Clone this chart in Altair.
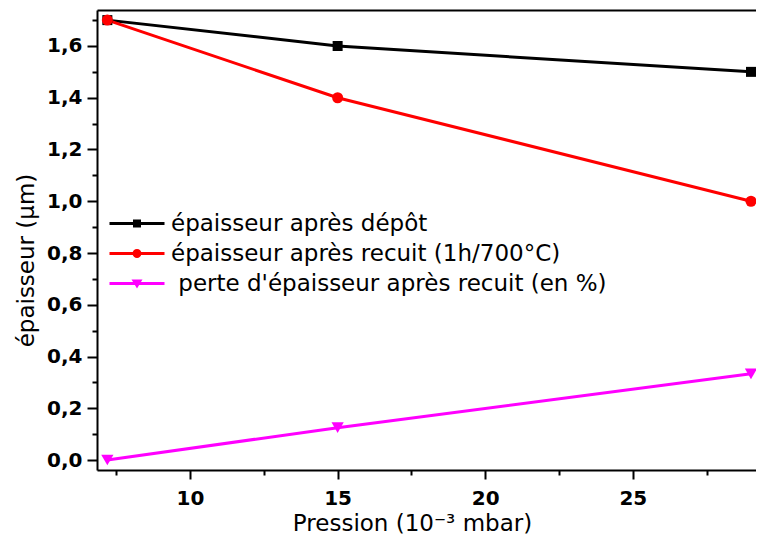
import altair as alt
import pandas as pd

# ---- data ----
pression = [7.2, 15, 29]
ep_depot = [1.7, 1.6, 1.5]
ep_recuit = [1.7, 1.4, 1.0]
perte = [0.0, 0.125, 0.333]

series = [
    "épaisseur après dépôt",
    "épaisseur après recuit (1h/700°C)",
    "perte d'épaisseur après recuit (en %)",
]
colors = ["#000000", "#ff0000", "#ff00ff"]
shapes = ["square", "circle", "triangle-down"]
sizes = [100, 121, 150]

x_major = [10, 15, 20, 25]
x_minor = [7.5, 12.5, 17.5, 22.5, 27.5]
y_major = [0.0, 0.2, 0.4, 0.6, 0.8, 1.0, 1.2, 1.4, 1.6]
y_minor = [0.1, 0.3, 0.5, 0.7, 0.9, 1.1, 1.3, 1.5, 1.7]

rows = []
for s, vals in zip(series, [ep_depot, ep_recuit, perte]):
    for p, v in zip(pression, vals):
        rows.append({"pression": p, "valeur": v, "serie": s})
df = pd.DataFrame(rows)

LABEL_FONT = "DejaVu Sans"
TEXT_FONT = "DejaVu Sans"

xscale = alt.Scale(domain=[6.85, 29.17], nice=False, zero=False)
yscale = alt.Scale(domain=[-0.0386, 1.7391], nice=False, zero=False)

x_main_axis = alt.Axis(
    values=x_major, orient="bottom", grid=False,
    domain=True, domainColor="black", domainWidth=2,
    tickSize=9, tickWidth=2, tickColor="black",
    labelFont=LABEL_FONT, labelFontSize=20, labelFontWeight="bold",
    labelColor="black", labelPadding=9, labelFlush=False,
    title="Pression (10⁻³ mbar)", titleFont=TEXT_FONT, titleFontSize=23,
    titleFontWeight="normal", titleColor="black",
    titleX=315, titleY=60, titleAlign="center", titleBaseline="alphabetic",
)
y_main_axis = alt.Axis(
    values=y_major, orient="left", grid=False,
    domain=True, domainColor="black", domainWidth=2,
    tickSize=10, tickWidth=2, tickColor="black",
    labelFont=LABEL_FONT, labelFontSize=20, labelFontWeight="bold",
    labelColor="black", labelPadding=5, labelFlush=False,
    labelExpr="replace(format(datum.value, '.1f'), '.', ',')",
    title="épaisseur (µm)", titleFont=TEXT_FONT, titleFontSize=23,
    titleFontWeight="normal", titleColor="black",
    titleAngle=270, titleX=-64, titleY=250, titleAlign="center",
    titleBaseline="alphabetic",
)
x_top_axis = alt.Axis(
    orient="top", grid=False, domain=True, domainColor="black",
    domainWidth=2, ticks=False, labels=False, title=None,
)
x_minor_axis = alt.Axis(
    values=x_minor, orient="bottom", grid=False, domain=False,
    tickSize=5, tickWidth=2, tickColor="black", labels=False, title=None,
)
y_minor_axis = alt.Axis(
    values=y_minor, orient="left", grid=False, domain=False,
    tickSize=5, tickWidth=2, tickColor="black", labels=False, title=None,
)

base = alt.Chart(df)

layers = []
# lines
x_axes = [x_main_axis, x_top_axis, None]
y_axes = [y_main_axis, None, None]
for i, (s, c) in enumerate(zip(series, colors)):
    layers.append(
        base.transform_filter(alt.datum.serie == s)
        .mark_line(color=c, strokeWidth=3)
        .encode(
            x=alt.X("pression:Q", scale=xscale, axis=x_axes[i]),
            y=alt.Y("valeur:Q", scale=yscale, axis=y_axes[i]),
        )
    )
# markers
for s, c, sh, sz in zip(series, colors, shapes, sizes):
    layers.append(
        base.transform_filter(alt.datum.serie == s)
        .mark_point(color=c, filled=True, opacity=1, shape=sh, size=sz)
        .encode(
            x=alt.X("pression:Q", scale=xscale, axis=None),
            y=alt.Y("valeur:Q", scale=yscale, axis=None),
        )
    )

# legend symbols: a line with the marker in its middle
line_path = "M-1.2,-0.3H9.8V0.3H-1.2Z"
legend_paths = [
    line_path + "M3.5,-0.8H5.1V0.8H3.5Z",
    line_path + "M5.2,0A0.9,0.9,0,1,1,3.4,0A0.9,0.9,0,1,1,5.2,0Z",
    line_path + "M3.2,-0.8H5.4L4.3,1.0Z",
]
legend = alt.Legend(
    title=None, orient="none", legendX=7, legendY=202,
    labelFont=TEXT_FONT, labelFontSize=23, labelColor="black",
    labelLimit=1000, labelOffset=44, symbolSize=100, symbolStrokeWidth=0,
    symbolOpacity=1, rowPadding=6, padding=0,
    labelExpr="indexof(datum.label, 'perte') == 0 ? '\u200b\u00a0' + datum.label : datum.label",
)
layers.append(
    base.transform_filter("false")
    .mark_point(filled=True, opacity=1)
    .encode(
        x=alt.X("pression:Q", scale=xscale, axis=x_minor_axis),
        y=alt.Y("valeur:Q", scale=yscale, axis=y_minor_axis),
        color=alt.Color("serie:N", scale=alt.Scale(domain=series, range=colors),
                        legend=legend, sort=series),
        shape=alt.Shape("serie:N", scale=alt.Scale(domain=series, range=legend_paths),
                        legend=legend, sort=series),
    )
)

chart = (
    alt.layer(*layers)
    .resolve_axis(x="independent", y="independent")
    .properties(
        width=659, height=460,
        padding={"left": 89, "top": 2, "right": 0, "bottom": 68},
        autosize=alt.AutoSizeParams(type="none"),
        background="white",
    )
    .configure_view(strokeWidth=0)
)

chart.save("out.html", embed_options={"renderer": "svg", "actions": False})
